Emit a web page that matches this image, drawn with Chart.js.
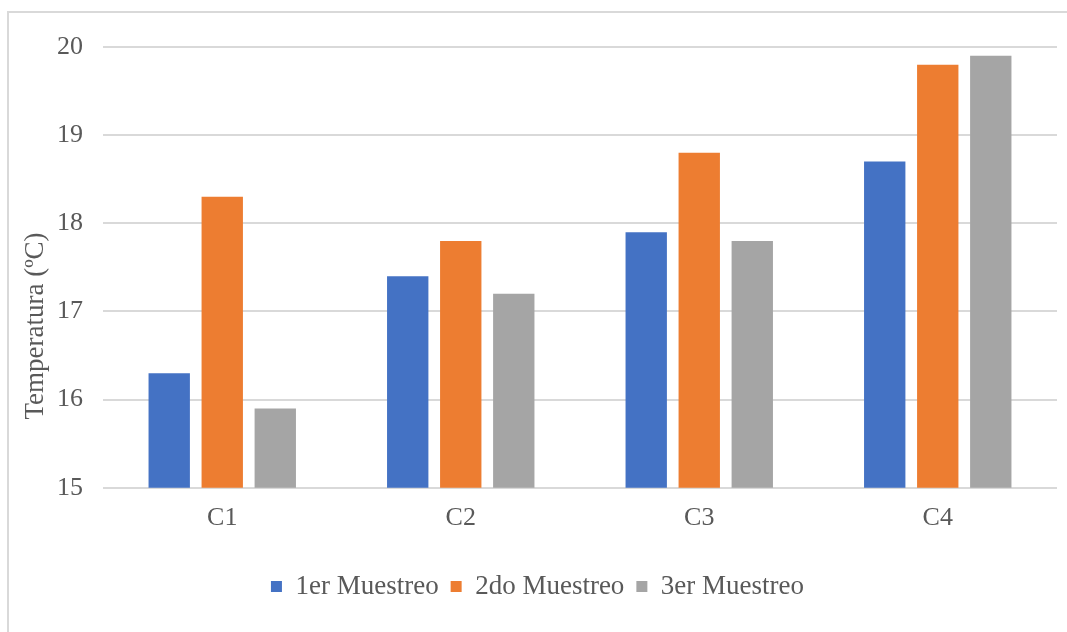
<!DOCTYPE html>
<html>
<head>
<meta charset="utf-8">
<script src="https://cdn.jsdelivr.net/npm/chart.js@4"></script>
<style>
  html, body { margin: 0; padding: 0; background: #fff; overflow: hidden; }
  #frame { position: absolute; left: 7px; top: 11px; width: 1080px; height: 650px; border: 2px solid #d9d9d9; box-sizing: border-box; }
  #wrap { position: absolute; left: 0; top: 0; width: 1067px; height: 632px; }
</style>
</head>
<body>
<div id="frame"></div>
<div id="wrap"><canvas id="chart"></canvas></div>
<script>
// Daten
const categories = ["C1", "C2", "C3", "C4"];
const muestreo1 = [16.3, 17.4, 17.9, 18.7];
const muestreo2 = [18.3, 17.8, 18.8, 19.8];
const muestreo3 = [15.9, 17.2, 17.8, 19.9];
const yTicks = [15, 16, 17, 18, 19, 20];
const yTitle = "Temperatura (ºC)";

const textColor = "#595959";
const fontFamily = "'Liberation Serif', 'Times New Roman', serif";
const font = { family: fontFamily, size: 26 };

// Achsentitel wie in Excel: auf die ganze Grafik zentriert, nicht nur auf die Achse
const yTitlePlugin = {
    id: "yTitle",
    afterDraw(chart) {
        const c = chart.ctx;
        c.save();
        c.translate(36, 326);
        c.rotate(-Math.PI / 2);
        c.font = "27px " + fontFamily;
        c.fillStyle = textColor;
        c.textAlign = "center";
        c.textBaseline = "middle";
        c.fillText(yTitle, 0, 0);
        c.restore();
    }
};

let ctx = document.getElementById("chart").getContext("2d");

new Chart(ctx, {
    type: "bar",
    data: {
        labels: categories,
        datasets: [
            { label: "1er Muestreo", data: muestreo1, backgroundColor: "#4472c4" },
            { label: "2do Muestreo", data: muestreo2, backgroundColor: "#ed7d31" },
            { label: "3er Muestreo", data: muestreo3, backgroundColor: "#a5a5a5" }
        ]
    },
    options: {
        responsive: true,
        maintainAspectRatio: false,
        animation: false,
        categoryPercentage: 0.667,
        barPercentage: 0.78,
        layout: { padding: { left: 18, right: 10, top: 47, bottom: 22 } },
        plugins: {
            legend: {
                position: "bottom",
                labels: { color: textColor, font: { family: fontFamily, size: 27 }, boxWidth: 11, boxHeight: 11, padding: 12 }
            },
            tooltip: { enabled: false }
        },
        scales: {
            x: {
                grid: { display: false },
                border: { display: false },
                ticks: { color: textColor, font: font, padding: 7 },
                afterFit: axis => { axis.height += 20; }
            },
            y: {
                min: yTicks[0],
                max: yTicks[yTicks.length - 1],
                afterBuildTicks: axis => { axis.ticks = yTicks.map(v => ({ value: v })); },
                grid: { color: "#d9d9d9", lineWidth: 2, drawTicks: false },
                border: { display: false },
                ticks: { color: textColor, font: font, padding: 20 },
                afterFit: axis => { axis.width = 85; }
            }
        }
    },
    plugins: [yTitlePlugin]
});
</script>
</body>
</html>
